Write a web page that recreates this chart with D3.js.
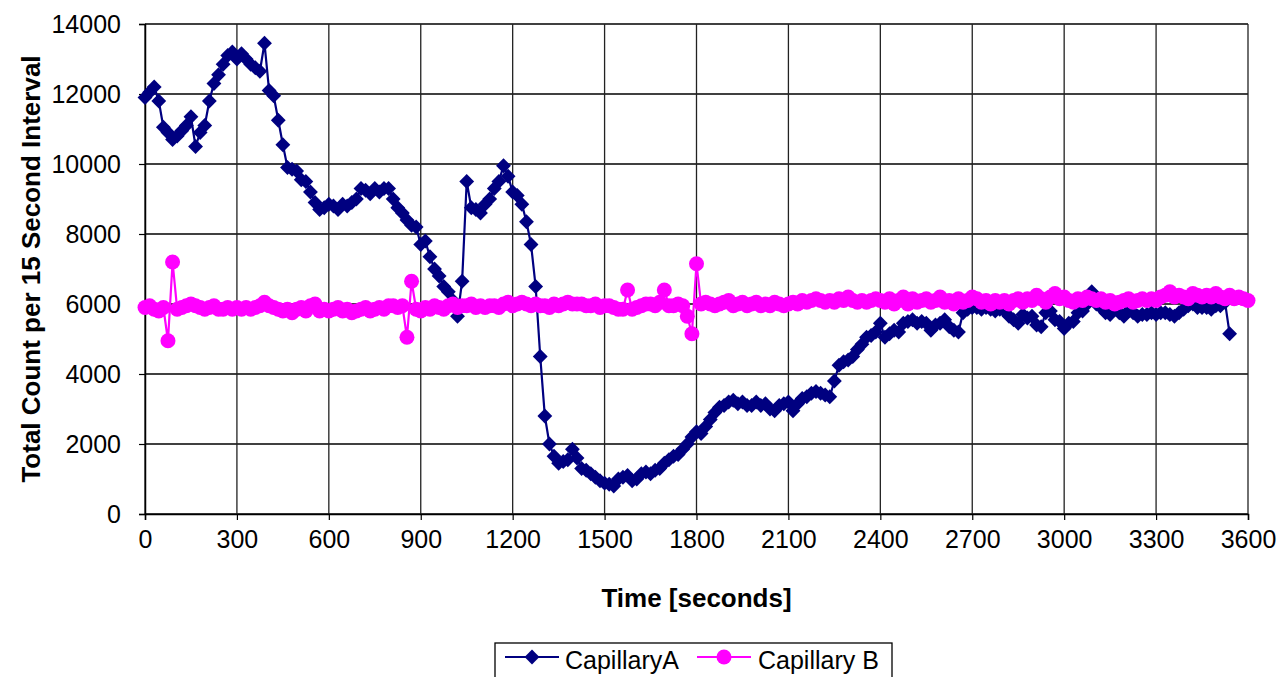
<!DOCTYPE html>
<html lang="en">
  <head>
    <meta charset="UTF-8" />
    <title>Total Count per 15 Second Interval</title>
    <script src="https://d3js.org/d3.v7.min.js"></script>
    <style>
      body {
        margin: 0;
        background: #fff;
        font-family: 'Liberation Sans', Arial, sans-serif;
      }
      .tick-label {
        font-size: 25px;
        fill: #000;
      }
      .axis-title {
        font-size: 26px;
        font-weight: bold;
        fill: #000;
      }
      .legend-text {
        font-size: 25px;
        fill: #000;
      }
    </style>
  </head>
  <body>
    <svg width="1279" height="677"></svg>
    <script>
      // sampling interval (seconds) - one reading every 15 s
      const step = 15;

      // Capillary A, readings from t = 0 to 3540 s (one row per 300 s)
      const capillaryA = [
        11900, 12050, 12200, 11800, 11050, 10900, 10700, 10800, 10950, 11100, 11350, 10500, 10900, 11100, 11800, 12300, 12550, 12850, 13100, 13200,
        13000, 13150, 13000, 12850, 12750, 12650, 13450, 12100, 11950, 11250, 10550, 9900, 9850, 9800, 9550, 9500, 9200, 8900, 8700, 8750,
        8850, 8800, 8700, 8850, 8800, 8900, 9000, 9300, 9250, 9150, 9300, 9200, 9300, 9300, 9000, 8750, 8600, 8400, 8250, 8200,
        7700, 7800, 7350, 7000, 6800, 6500, 6350, 6100, 5650, 6650, 9500, 8750, 8700, 8600, 8850, 9000, 9300, 9500, 9950, 9650,
        9200, 9100, 8850, 8350, 7700, 6500, 4500, 2800, 2000, 1650, 1450, 1500, 1550, 1850, 1600, 1300, 1250, 1150, 1050, 950,
        880, 850, 800, 1000, 1050, 1100, 950, 1000, 1150, 1200, 1150, 1250, 1300, 1450, 1550, 1650, 1700, 1850, 2000, 2200,
        2350, 2300, 2500, 2700, 2900, 3050, 3100, 3200, 3250, 3150, 3200, 3100, 3100, 3200, 3100, 3150, 3000, 2950, 3100, 3150,
        3200, 2950, 3150, 3300, 3350, 3450, 3500, 3450, 3400, 3350, 3800, 4250, 4350, 4400, 4500, 4700, 4850, 5050, 5100, 5200,
        5450, 5050, 5150, 5250, 5200, 5450, 5500, 5550, 5450, 5500, 5450, 5250, 5400, 5450, 5550, 5350, 5250, 5200, 5750, 5850,
        5900, 5900, 5850, 5900, 5850, 5800, 5850, 5800, 5650, 5550, 5450, 5700, 5600, 5650, 5400, 5350, 5750, 5800, 5550, 5500,
        5300, 5450, 5500, 5750, 5800, 6000, 6350, 6000, 5900, 5750, 5700, 5850, 5750, 5650, 5800, 5750, 5650, 5700, 5700, 5750,
        5700, 5750, 5750, 5700, 5650, 5750, 5850, 5950, 6000, 5900, 5900, 5900, 5850, 5950, 5950, 6050, 5150,
      ];

      // Capillary B, readings from t = 0 to 3600 s
      const capillaryB = [
        5900, 5950, 5850, 5800, 5900, 4950, 7200, 5850, 5900, 5950, 6000, 5950, 5900, 5850, 5900, 5950, 5850, 5850, 5900, 5850,
        5900, 5850, 5900, 5850, 5900, 5950, 6050, 5950, 5900, 5850, 5800, 5850, 5750, 5850, 5900, 5800, 5950, 6000, 5800, 5850,
        5800, 5850, 5900, 5800, 5850, 5750, 5800, 5850, 5900, 5800, 5850, 5900, 5850, 5950, 5950, 5900, 5950, 5050, 6650, 5850,
        5800, 5900, 5850, 5950, 5900, 5850, 5950, 6000, 5900, 5950, 5950, 6000, 5900, 5950, 5900, 5950, 5950, 5900, 6000, 6050,
        5950, 6000, 6050, 6000, 5950, 6000, 5950, 5950, 5900, 6000, 5950, 6000, 6050, 6000, 6000, 6000, 5950, 5950, 6000, 5900,
        5950, 5950, 5900, 5850, 5850, 6400, 5850, 5900, 5950, 6000, 6000, 5950, 6050, 6400, 5950, 5950, 6000, 5950, 5650, 5150,
        7150, 6000, 6050, 6000, 5950, 6000, 6050, 6100, 5950, 6000, 6050, 5950, 6000, 6050, 5950, 6000, 5950, 6050, 6000, 5950,
        6000, 6050, 6000, 6100, 6050, 6100, 6150, 6100, 6050, 6100, 6050, 6150, 6100, 6200, 6100, 6050, 6100, 6050, 6100, 6150,
        6100, 6050, 6150, 6000, 6100, 6200, 6000, 6150, 6050, 6100, 6150, 6050, 6100, 6200, 6050, 6100, 6000, 6150, 6050, 6100,
        6200, 6150, 6050, 6100, 6000, 6100, 6050, 6100, 6000, 6100, 6150, 6050, 6150, 6100, 6250, 6150, 6050, 6200, 6300, 6150,
        6200, 6100, 6050, 6150, 6100, 6200, 6150, 6100, 6150, 6050, 6100, 6000, 6050, 6100, 6150, 6050, 6100, 6150, 6100, 6150,
        6100, 6200, 6250, 6350, 6200, 6250, 6200, 6150, 6300, 6250, 6200, 6250, 6200, 6300, 6200, 6150, 6250, 6150, 6200, 6150, 6100,
      ];

      const xTicks = [0, 300, 600, 900, 1200, 1500, 1800, 2100, 2400, 2700, 3000, 3300, 3600];
      const yTicks = [0, 2000, 4000, 6000, 8000, 10000, 12000, 14000];

      const seriesNames = ['CapillaryA', 'Capillary B'];
      const colorA = '#000080';
      const colorB = '#ff00ff';

      const svg = d3.select('svg');

      const plotLeft = 145;
      const plotRight = 1248;
      const plotTop = 24;
      const plotBottom = 514;

      const x = d3.scaleLinear().domain([0, 3600]).range([plotLeft, plotRight]);
      const y = d3.scaleLinear().domain([0, 14000]).range([plotBottom, plotTop]);

      // grid
      svg
        .append('g')
        .selectAll('line')
        .data(yTicks)
        .join('line')
        .attr('x1', plotLeft)
        .attr('x2', plotRight)
        .attr('y1', (d) => y(d))
        .attr('y2', (d) => y(d))
        .attr('stroke', '#000')
        .attr('stroke-width', 1.3);

      svg
        .append('g')
        .selectAll('line')
        .data(xTicks)
        .join('line')
        .attr('x1', (d) => x(d))
        .attr('x2', (d) => x(d))
        .attr('y1', plotTop)
        .attr('y2', plotBottom)
        .attr('stroke', '#222')
        .attr('stroke-width', 1.3);

      // axes
      const yAxis = svg
        .append('g')
        .attr('transform', `translate(${plotLeft},0)`)
        .call(
          d3.axisLeft(y).tickValues(yTicks).tickSize(6).tickPadding(18).tickFormat(d3.format('d'))
        );
      const xAxis = svg
        .append('g')
        .attr('transform', `translate(0,${plotBottom})`)
        .call(
          d3.axisBottom(x).tickValues(xTicks).tickSize(6).tickPadding(10).tickFormat(d3.format('d'))
        );
      [xAxis, yAxis].forEach((ax) => {
        ax.attr('font-size', null).attr('font-family', null);
        ax.select('.domain').attr('stroke', '#000').attr('stroke-width', 1.5);
        ax.selectAll('.tick line').attr('stroke', '#000').attr('stroke-width', 1.2);
        ax.selectAll('.tick text').attr('class', 'tick-label');
      });

      // series
      const diamond = d3.symbol().type(d3.symbolSquare).size(110);

      const line = d3
        .line()
        .x((d, i) => x(i * step))
        .y((d) => y(d));

      svg
        .append('path')
        .datum(capillaryA)
        .attr('fill', 'none')
        .attr('stroke', colorA)
        .attr('stroke-width', 2.2)
        .attr('d', line);

      svg
        .append('g')
        .selectAll('path')
        .data(capillaryA)
        .join('path')
        .attr('d', diamond)
        .attr('fill', colorA)
        .attr('transform', (d, i) => `translate(${x(i * step)},${y(d)}) rotate(45)`);

      svg
        .append('path')
        .datum(capillaryB)
        .attr('fill', 'none')
        .attr('stroke', colorB)
        .attr('stroke-width', 2.2)
        .attr('d', line);

      svg
        .append('g')
        .selectAll('circle')
        .data(capillaryB)
        .join('circle')
        .attr('cx', (d, i) => x(i * step))
        .attr('cy', (d) => y(d))
        .attr('r', 7.5)
        .attr('fill', colorB);

      // axis titles
      svg
        .append('text')
        .attr('class', 'axis-title')
        .attr('x', (plotLeft + plotRight) / 2)
        .attr('y', 607)
        .attr('text-anchor', 'middle')
        .text('Time [seconds]');

      svg
        .append('text')
        .attr('class', 'axis-title')
        .attr('transform', `translate(40,${(plotTop + plotBottom) / 2}) rotate(-90)`)
        .attr('text-anchor', 'middle')
        .text('Total Count per 15 Second Interval');

      // legend
      const legend = svg.append('g');
      legend
        .append('rect')
        .attr('x', 495)
        .attr('y', 643)
        .attr('width', 397)
        .attr('height', 60)
        .attr('fill', '#fff')
        .attr('stroke', '#000')
        .attr('stroke-width', 1.3);

      const legendItems = [
        { name: seriesNames[0], color: colorA, x0: 505, tx: 565 },
        { name: seriesNames[1], color: colorB, x0: 697, tx: 758 },
      ];
      const ly = 657;
      legendItems.forEach((it, k) => {
        legend
          .append('line')
          .attr('x1', it.x0)
          .attr('x2', it.x0 + 54)
          .attr('y1', ly)
          .attr('y2', ly)
          .attr('stroke', it.color)
          .attr('stroke-width', 2.2);
        if (k === 0) {
          legend
            .append('path')
            .attr('d', diamond)
            .attr('fill', it.color)
            .attr('transform', `translate(${it.x0 + 27},${ly}) rotate(45)`);
        } else {
          legend
            .append('circle')
            .attr('cx', it.x0 + 27)
            .attr('cy', ly)
            .attr('r', 7.5)
            .attr('fill', it.color);
        }
        legend
          .append('text')
          .attr('class', 'legend-text')
          .attr('x', it.tx)
          .attr('y', ly + 12)
          .text(it.name);
      });
    </script>
  </body>
</html>
